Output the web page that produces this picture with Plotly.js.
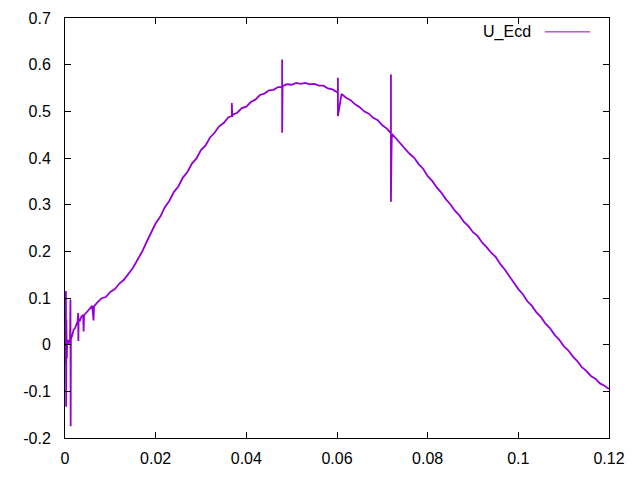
<!DOCTYPE html>
<html>
<head>
<meta charset="utf-8">
<script src="https://cdn.plot.ly/plotly-3.0.1.min.js"></script>
<style>html,body{margin:0;padding:0;background:#fff;}#chart{width:640px;height:480px;}</style>
</head>
<body>
<div id="chart"></div>
<script>
const seriesName = "U_Ecd";
const xValues = [
  0, 0.0001, 0.0002, 0.00025, 0.0003, 0.0004, 0.0005, 0.0007, 0.0009, 0.0011, 0.0012, 0.00125, 0.0013,
  0.0016, 0.0019, 0.0022, 0.0025, 0.0028, 0.0029, 0.00295, 0.003, 0.0033, 0.0036,
  0.004, 0.0041, 0.0042, 0.005, 0.006, 0.0063, 0.0064, 0.007, 0.008, 0.009,
  0.010, 0.011, 0.012, 0.013, 0.014, 0.015, 0.016, 0.017, 0.018, 0.019,
  0.020, 0.021, 0.022, 0.023, 0.024, 0.025, 0.026, 0.027, 0.028, 0.029,
  0.030, 0.031, 0.032, 0.033, 0.034, 0.035, 0.036, 0.0368, 0.0368, 0.0369, 0.037, 0.038, 0.039,
  0.040, 0.041, 0.042, 0.043, 0.044, 0.045, 0.046, 0.047, 0.0479, 0.0479, 0.0479, 0.048, 0.049,
  0.050, 0.051, 0.052, 0.053, 0.054, 0.055, 0.056, 0.057, 0.058, 0.059,
  0.060, 0.0602, 0.0602, 0.0602, 0.061, 0.062, 0.063, 0.064, 0.065, 0.066, 0.067, 0.068, 0.069,
  0.070, 0.071, 0.0719, 0.0719, 0.0719, 0.0720, 0.0720, 0.0721, 0.073, 0.074, 0.075, 0.076, 0.077, 0.078, 0.079,
  0.080, 0.081, 0.082, 0.083, 0.084, 0.085, 0.086, 0.087, 0.088, 0.089,
  0.090, 0.091, 0.092, 0.093, 0.094, 0.095, 0.096, 0.097, 0.098, 0.099,
  0.100, 0.101, 0.102, 0.103, 0.104, 0.105, 0.106, 0.107, 0.108, 0.109,
  0.110, 0.111, 0.112, 0.113, 0.114, 0.115, 0.116, 0.117, 0.118, 0.119, 0.120
];
const yValues = [
  0.0, -0.04, 0.115, -0.133, 0.054, -0.03, 0.01, 0.0, 0.01, 0.005, 0.097, -0.175, 0.012,
  0.02, 0.032, 0.035, 0.045, 0.05, 0.068, 0.008, 0.055, 0.052, 0.06,
  0.064, 0.028, 0.063, 0.071, 0.083, 0.052, 0.082, 0.089, 0.099, 0.102,
  0.113, 0.119, 0.131, 0.139, 0.153, 0.165, 0.182, 0.199, 0.220, 0.239,
  0.260, 0.274, 0.294, 0.308, 0.327, 0.339, 0.358, 0.370, 0.388, 0.399,
  0.417, 0.427, 0.444, 0.454, 0.468, 0.475, 0.487, 0.490, 0.518, 0.488, 0.493, 0.497, 0.507,
  0.510, 0.520, 0.525, 0.535, 0.538, 0.545, 0.546, 0.552, 0.552, 0.611, 0.454, 0.554, 0.558,
  0.557, 0.561, 0.559, 0.561, 0.558, 0.559, 0.555, 0.555, 0.549, 0.547,
  0.540, 0.540, 0.572, 0.490, 0.537, 0.529, 0.524, 0.515, 0.509, 0.500, 0.495, 0.486, 0.481,
  0.470, 0.463, 0.453, 0.579, 0.306, 0.490, 0.400, 0.452, 0.442, 0.431, 0.422, 0.409, 0.401, 0.387, 0.377,
  0.361, 0.351, 0.337, 0.326, 0.312, 0.301, 0.287, 0.277, 0.263, 0.254,
  0.241, 0.233, 0.219, 0.209, 0.197, 0.188, 0.173, 0.161, 0.147, 0.135,
  0.119, 0.108, 0.093, 0.083, 0.069, 0.059, 0.045, 0.035, 0.021, 0.011,
  -0.003, -0.012, -0.025, -0.035, -0.048, -0.056, -0.067, -0.073, -0.083, -0.088, -0.095
];
const xTickVals = [0, 0.02, 0.04, 0.06, 0.08, 0.1, 0.12];
const xTickText = ["0", "0.02", "0.04", "0.06", "0.08", "0.1", "0.12"];
const yTickVals = [-0.2, -0.1, 0, 0.1, 0.2, 0.3, 0.4, 0.5, 0.6, 0.7];
const yTickText = ["-0.2", "-0.1", "0", "0.1", "0.2", "0.3", "0.4", "0.5", "0.6", "0.7"];

const lineColor = "#9400D3";
const font = {family: "Liberation Sans, Arial, sans-serif", size: 16, color: "#000"};

const trace = {
  x: xValues, y: yValues, type: "scatter", mode: "lines", name: seriesName,
  line: {color: lineColor, width: 1.8}, showlegend: false
};

const axisBase = {
  showgrid: false, zeroline: false, showline: true, linecolor: "#000", linewidth: 1,
  mirror: "ticks", ticks: "inside", ticklen: 6, tickcolor: "#000", tickwidth: 1,
  tickfont: font, tickmode: "array"
};

const layout = {
  width: 640, height: 480,
  margin: {l: 65, r: 31, t: 18, b: 42, pad: 0},
  paper_bgcolor: "#fff", plot_bgcolor: "#fff",
  font: font,
  xaxis: Object.assign({}, axisBase, {range: [0, 0.12], tickvals: xTickVals, ticktext: xTickText, ticklabelstandoff: 6}),
  yaxis: Object.assign({}, axisBase, {range: [-0.2, 0.7], tickvals: yTickVals, ticktext: yTickText, ticklabelstandoff: 10}),
  annotations: [{
    xref: "paper", yref: "paper", x: 0.860, y: 0.967, xanchor: "right", yanchor: "middle",
    text: seriesName, showarrow: false, font: font
  }],
  shapes: [{
    type: "line", xref: "paper", yref: "paper", x0: 0.882, x1: 0.965, y0: 0.967, y1: 0.967,
    line: {color: lineColor, width: 1}
  }]
};

Plotly.newPlot("chart", [trace], layout, {staticPlot: true, displayModeBar: false});
</script>
</body>
</html>
